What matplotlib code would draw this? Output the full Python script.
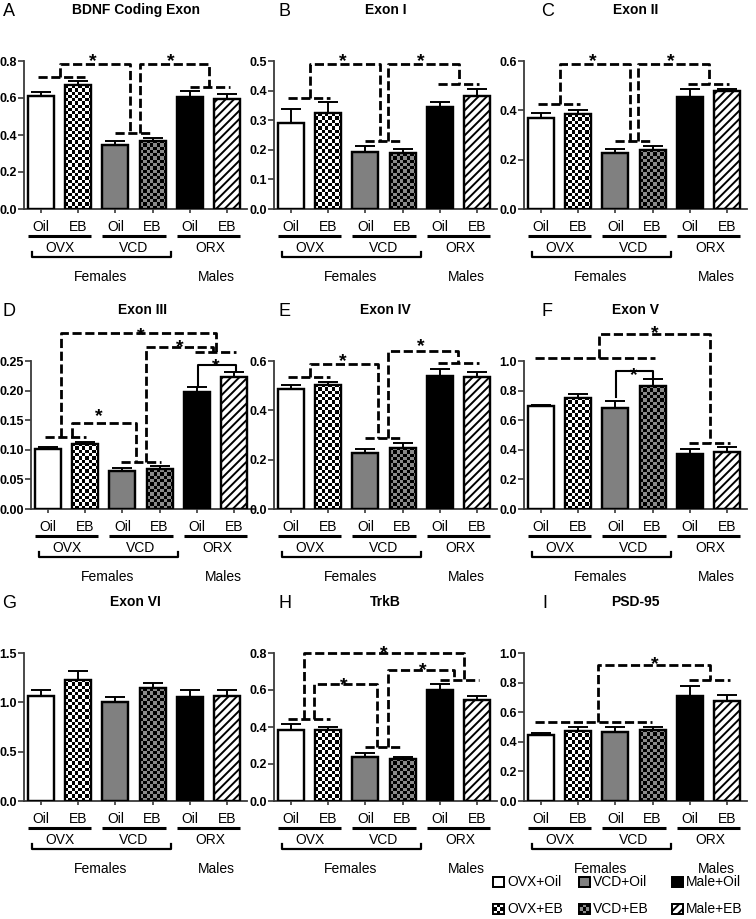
import numpy as np
import matplotlib
matplotlib.use("Agg")
import matplotlib.pyplot as plt
from matplotlib.colors import ListedColormap
from matplotlib.patches import Rectangle
import matplotlib.transforms as mtransforms

plt.rcParams['font.family'] = ['Liberation Sans', 'DejaVu Sans']
plt.rcParams['hatch.linewidth'] = 1.4

# ---------------- data ----------------
groups = ["OVX+Oil", "OVX+EB", "VCD+Oil", "VCD+EB", "Male+Oil", "Male+EB"]
treat_labels = ["Oil", "EB", "Oil", "EB", "Oil", "EB"]
model_labels = ["OVX", "VCD", "ORX"]
sex_labels = ["Females", "Males"]

panel_letters = ["A", "B", "C", "D", "E", "F", "G", "H", "I"]
panel_titles = ["BDNF Coding Exon", "Exon I", "Exon II", "Exon III", "Exon IV",
                "Exon V", "Exon VI", "TrkB", "PSD-95"]
y_max = [0.8, 0.5, 0.6, 0.25, 0.6, 1.0, 1.5, 0.8, 1.0]
y_step = [0.2, 0.1, 0.2, 0.05, 0.2, 0.2, 0.5, 0.2, 0.2]
y_decimals = [1, 1, 1, 2, 1, 1, 1, 1, 1]

means_A = [0.610, 0.670, 0.345, 0.368, 0.607, 0.595]
err_A = [0.021, 0.022, 0.021, 0.016, 0.029, 0.027]
means_B = [0.289, 0.324, 0.194, 0.189, 0.343, 0.382]
err_B = [0.048, 0.037, 0.019, 0.014, 0.017, 0.022]
means_C = [0.368, 0.384, 0.227, 0.241, 0.454, 0.478]
err_C = [0.023, 0.017, 0.018, 0.014, 0.032, 0.010]
means_D = [0.1015, 0.110, 0.0648, 0.067, 0.198, 0.2235]
err_D = [0.003, 0.004, 0.004, 0.0055, 0.0075, 0.0085]
means_E = [0.485, 0.503, 0.228, 0.249, 0.539, 0.536]
err_E = [0.016, 0.012, 0.015, 0.017, 0.030, 0.018]
means_F = [0.696, 0.752, 0.685, 0.833, 0.372, 0.387]
err_F = [0.004, 0.023, 0.047, 0.048, 0.036, 0.030]
means_G = [1.060, 1.229, 0.999, 1.145, 1.053, 1.060]
err_G = [0.068, 0.085, 0.054, 0.050, 0.075, 0.060]
means_H = [0.386, 0.383, 0.240, 0.228, 0.600, 0.545]
err_H = [0.031, 0.017, 0.022, 0.010, 0.030, 0.025]
means_I = [0.447, 0.474, 0.463, 0.483, 0.707, 0.677]
err_I = [0.013, 0.023, 0.038, 0.016, 0.072, 0.036]

# significance annotations
# group lines: (x_start, x_end, y)
lines_A = [(-0.08, 1.17, 0.712), (1.98, 3.01, 0.413), (4.00, 5.07, 0.658)]
lines_B = [(-0.08, 1.04, 0.376), (1.98, 3.01, 0.230), (3.95, 5.05, 0.421)]
lines_C = [(-0.08, 1.04, 0.426), (1.98, 3.01, 0.277), (3.95, 5.05, 0.507)]
lines_D = [(-0.07, 1.03, 0.122), (1.95, 3.04, 0.079), (3.94, 5.06, 0.265)]
lines_E = [(-0.08, 1.04, 0.536), (1.98, 3.01, 0.286), (3.95, 5.05, 0.591)]
lines_F = [(-0.17, 3.07, 1.023), (3.97, 5.08, 0.444)]
lines_G = []
lines_H = [(-0.08, 1.04, 0.443), (1.98, 3.01, 0.290), (4.00, 5.05, 0.655)]
lines_I = [(-0.17, 2.98, 0.535), (3.97, 5.08, 0.815)]
# brackets: (x_left, x_right, y_top, y_left_end, y_right_end, x_star, y_star, dashed)
br_A = [(0.50, 2.38, 0.782, 0.712, 0.413, 1.40, 0.836, True),
        (2.65, 4.52, 0.782, 0.413, 0.658, 3.50, 0.836, True)]
br_B = [(0.50, 2.38, 0.489, 0.376, 0.230, 1.40, 0.5225, True),
        (2.62, 4.52, 0.489, 0.230, 0.421, 3.50, 0.5225, True)]
br_C = [(0.50, 2.38, 0.586, 0.426, 0.277, 1.40, 0.627, True),
        (2.62, 4.52, 0.586, 0.277, 0.507, 3.50, 0.627, True)]
br_D = [(0.63, 2.36, 0.146, 0.122, 0.079, 1.37, 0.167, True),
        (0.36, 4.52, 0.297, 0.122, 0.265, 2.50, 0.305, True),
        (2.63, 4.43, 0.274, 0.079, 0.265, 3.53, 0.284, True),
        (4.03, 5.05, 0.244, 0.2065, 0.233, 4.52, 0.252, False)]
br_E = [(0.50, 2.34, 0.586, 0.536, 0.286, 1.40, 0.624, True),
        (2.62, 4.49, 0.642, 0.286, 0.591, 3.50, 0.685, True)]
br_F = [(1.57, 4.54, 1.182, 1.023, 0.444, 3.05, 1.232, True),
        (2.01, 3.00, 0.932, 0.759, 0.890, 2.50, 0.950, False)]
br_G = []
br_H = [(0.62, 2.31, 0.631, 0.443, 0.290, 1.43, 0.659, True),
        (0.35, 4.65, 0.800, 0.443, 0.655, 2.49, 0.836, True),
        (2.60, 4.38, 0.710, 0.290, 0.655, 3.54, 0.742, True)]
br_I = [(1.53, 4.54, 0.921, 0.535, 0.815, 3.05, 0.971, True)]

panel_means = [means_A, means_B, means_C, means_D, means_E, means_F, means_G, means_H, means_I]
panel_errs = [err_A, err_B, err_C, err_D, err_E, err_F, err_G, err_H, err_I]
panel_lines = [lines_A, lines_B, lines_C, lines_D, lines_E, lines_F, lines_G, lines_H, lines_I]
panel_brs = [br_A, br_B, br_C, br_D, br_E, br_F, br_G, br_H, br_I]

# ---------------- styles / layout ----------------
W, H = 756, 919
fig = plt.figure(figsize=(W / 100, H / 100), dpi=100)

GRAY = "#808080"
faces = ["white", "white", GRAY, "black", "black", "white"]
checker = [None, ("white", "black"), None, ("black", "#8a8a8a"), None, None]
hatches = [None, None, None, None, None, "////"]

AX_W, AX_H = 223, 148
col_left = [24, 274, 524, 31, 274, 524, 24, 274, 524]
row_top = [61, 61, 61, 361, 361, 361, 653, 653, 653]
letter_x = [9, 284, 548, 9, 284, 547, 9, 285, 545]
XMIN, XMAX = -0.46, 5.54
CELL = 3.3
DASH = (0, (3.3, 1.3))

overlay = fig.add_axes([0, 0, 1, 1], zorder=10)
overlay.set_xlim(0, W)
overlay.set_ylim(H, 0)
overlay.axis("off")
overlay.patch.set_alpha(0)


def add_checker(ax, x0, x1, y0, y1, colors, clip, npx_w, npx_h, zorder):
    ncols = max(1, int(round(npx_w / CELL)))
    nrows = max(1, int(round(npx_h / CELL)))
    arr = np.add.outer(np.arange(nrows), np.arange(ncols)) % 2
    im = ax.imshow(arr, extent=(x0, x1, y0, y1), origin="lower",
                   cmap=ListedColormap(list(colors)), vmin=0, vmax=1,
                   interpolation="nearest", aspect="auto", zorder=zorder)
    if clip is not None:
        im.set_clip_path(clip)
    return im


for p in range(9):
    left, top = col_left[p], row_top[p]
    ax = fig.add_axes([left / W, (H - top - AX_H) / H, AX_W / W, AX_H / H])
    ymax = y_max[p]
    means = np.array(panel_means[p])
    errs = np.array(panel_errs[p])
    x = np.arange(len(means))

    ax.errorbar(x, means, yerr=[np.zeros_like(errs), errs], fmt="none",
                ecolor="black", elinewidth=1.4, capsize=7, capthick=1.4, zorder=1)
    bars = ax.bar(x, means, width=0.7, color=faces, edgecolor="black",
                  linewidth=1.6, zorder=2)
    for i, b in enumerate(bars):
        if checker[i] is not None:
            hpx = means[i] / ymax * AX_H
            add_checker(ax, x[i] - 0.35, x[i] + 0.35, 0, means[i], checker[i], b,
                        26, hpx, 2.5)
        if hatches[i]:
            b.set_hatch(hatches[i])
    ax.bar(x, means, width=0.7, fill=False, edgecolor="black", linewidth=1.6, zorder=4)

    # significance lines
    for (xa, xb, yy) in panel_lines[p]:
        ax.plot([xa, xb], [yy, yy], color="black", lw=2.0, linestyle=DASH,
                dash_capstyle="butt", clip_on=False, zorder=5)
    for (xl, xr, yt, yl, yr, xs, ys, dashed) in panel_brs[p]:
        ls = DASH if dashed else "-"
        lw = 2.0 if dashed else 1.5
        ax.plot([xl, xl, xr, xr], [yl, yt, yt, yr], color="black", lw=lw,
                linestyle=ls, dash_capstyle="butt", clip_on=False, zorder=5)
        ax.annotate("*", xy=(xs, ys), xytext=(0, -8.2), textcoords="offset points",
                    ha="center", va="baseline", fontsize=14, fontweight="bold",
                    annotation_clip=False, zorder=6)

    ax.set_xlim(XMIN, XMAX)
    ax.set_ylim(0, ymax)
    ticks = np.round(np.arange(0, ymax + y_step[p] / 2, y_step[p]), 4)
    ax.set_yticks(ticks)
    ax.set_yticklabels([f"{t:.{y_decimals[p]}f}" for t in ticks],
                       fontsize=9, fontweight="bold")
    ax.set_xticks(x)
    ax.set_xticklabels([])
    for s in ["top", "right"]:
        ax.spines[s].set_visible(False)
    for s in ["left", "bottom"]:
        ax.spines[s].set_linewidth(1.3)
        ax.spines[s].set_color("#3a3a3a")
    ax.tick_params(axis="y", length=4, width=1.2, color="#3a3a3a", pad=1)
    ax.tick_params(axis="x", length=3, width=1.2, color="#3a3a3a")
    ax.set_facecolor("none")

    trans = mtransforms.blended_transform_factory(ax.transData, ax.transAxes)

    def fy(px):
        return -px / AX_H

    for i in range(6):
        ax.text(x[i], fy(18), treat_labels[i], ha="center", va="center",
                fontsize=10, transform=trans)
    for k in range(3):
        ax.plot([2 * k - 0.35, 2 * k + 1.35], [fy(27)] * 2, color="black", lw=2.2,
                transform=trans, clip_on=False, solid_capstyle="butt")
    for k, xm in enumerate([0.5, 2.5, 4.55]):
        ax.text(xm, fy(39), model_labels[k], ha="center", va="center",
                fontsize=10, transform=trans)
    ax.plot([-0.24, -0.24, 3.5, 3.5], [fy(43), fy(48), fy(48), fy(43)],
            color="black", lw=1.6, transform=trans, clip_on=False)
    ax.text(1.6, fy(68), sex_labels[0], ha="center", va="center", fontsize=10,
            transform=trans)
    ax.text(4.72, fy(68), sex_labels[1], ha="center", va="center", fontsize=10,
            transform=trans)

    # title and letter
    overlay.text(left + AX_W / 2, top - 51, panel_titles[p], ha="center",
                 va="center", fontsize=10, fontweight="bold")
    overlay.text(letter_x[p], top - 50, panel_letters[p], ha="center",
                 va="center", fontsize=13)

# ---------------- legend ----------------
leg_x = [493, 579, 672]
leg_y = [882, 909]
BW, BH = 11, 10
for idx, name in enumerate(groups):
    col = idx // 2
    row = idx % 2
    bx = leg_x[col]
    by = leg_y[row] - BH / 2
    rect = Rectangle((bx, by), BW, BH, facecolor=faces[idx], edgecolor="black",
                     linewidth=1.3, hatch=hatches[idx], zorder=2)
    overlay.add_patch(rect)
    if checker[idx] is not None:
        add_checker(overlay, bx, bx + BW, by + BH, by, checker[idx], rect,
                    BW, BH, 2.5)
    overlay.add_patch(Rectangle((bx, by), BW, BH, fill=False, edgecolor="black",
                                linewidth=1.3, zorder=3))
    overlay.text(bx + BW + 3, leg_y[row], name, ha="left", va="center", fontsize=10)

overlay.set_xlim(0, W)
overlay.set_ylim(H, 0)

fig.savefig("out.png", dpi=100)
